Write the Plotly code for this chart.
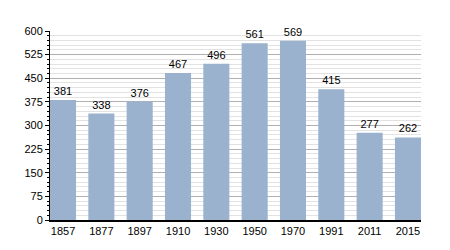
import plotly.graph_objects as go

years = ["1857", "1877", "1897", "1910", "1930", "1950", "1970", "1991", "2011", "2015"]
population = [381, 338, 376, 467, 496, 561, 569, 415, 277, 262]
y_ticks = [0, 75, 150, 225, 300, 375, 450, 525, 600]

fig = go.Figure(go.Bar(
    x=years, y=population,
    marker=dict(color="#9AB2CE", line=dict(width=0)),
    text=[str(v) for v in population], textposition="outside",
    textfont=dict(family="Liberation Sans, Arial", size=11, color="#000"),
    cliponaxis=False,
))
fig.update_layout(
    width=450, height=250,
    margin=dict(l=50, r=29, t=31, b=30),
    paper_bgcolor="white", plot_bgcolor="white",
    bargap=0.32,
    showlegend=False,
    font=dict(family="Liberation Sans, Arial", size=11, color="#000"),
)
fig.update_xaxes(
    type="category", range=[-0.34, 9.34], showline=True, linecolor="#000", linewidth=1.5,
    showgrid=False, ticks="", tickfont=dict(size=11),
)
fig.update_yaxes(
    range=[0, 600], tickvals=y_ticks, showline=True, linecolor="#000", linewidth=1,
    ticks="outside", ticklen=4, tickcolor="#000",
    showgrid=True, gridcolor="#b0b0b0", gridwidth=1,
    minor=dict(dtick=15, showgrid=True, gridcolor="#e2e2e2", ticks="outside", ticklen=2, tickcolor="#000"),
    tickfont=dict(size=11), zeroline=False,
)
fig.write_html("out.html")
